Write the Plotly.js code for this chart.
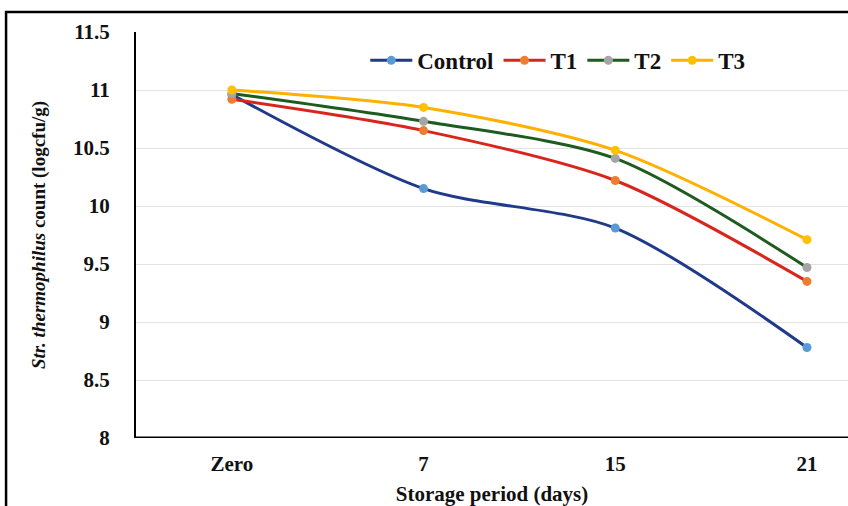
<!DOCTYPE html>
<html>
<head>
<meta charset="utf-8">
<script src="https://cdn.plot.ly/plotly-3.0.1.min.js"></script>
<style>
html,body{margin:0;padding:0;background:#fff;}
#chart{width:848px;height:506px;}
</style>
</head>
<body>
<div id="chart"></div>
<script>
const categories = ["Zero", "7", "15", "21"];
const seriesNames = ["Control", "T1", "T2", "T3"];
const control = [10.96, 10.15, 9.81, 8.78];
const t1 = [10.92, 10.65, 10.22, 9.35];
const t2 = [10.97, 10.73, 10.41, 9.47];
const t3 = [11.00, 10.85, 10.48, 9.71];
const yTicks = [8, 8.5, 9, 9.5, 10, 10.5, 11, 11.5];

const lineColors = ["#1F3A8A", "#D9261C", "#1E5B1E", "#FFB000"];
const markerColors = ["#5B9BD5", "#ED7D31", "#A5A5A5", "#FFC000"];
const values = [control, t1, t2, t3];

const traces = values.map((v, i) => ({
  x: [0, 1, 2, 3],
  y: v,
  name: seriesNames[i],
  type: "scatter",
  mode: "lines+markers",
  line: {color: lineColors[i], width: 3, shape: "spline", smoothing: 0.8},
  marker: {color: markerColors[i], size: 9}
}));

const serif = "Liberation Serif";
const layout = {
  width: 848, height: 506,
  margin: {l: 136, r: 0, t: 32, b: 68},
  paper_bgcolor: "#fff", plot_bgcolor: "#fff",
  font: {family: serif, color: "#111", size: 20, weight: "bold"},
  showlegend: true,
  legend: {orientation: "h", x: 0.322, y: 0.93, xanchor: "left", yanchor: "middle",
           font: {family: serif, size: 23, weight: "bold", color: "#111"},
           bgcolor: "rgba(0,0,0,0)", itemwidth: 42, tracegroupgap: 0},
  xaxis: {
    range: [-0.5, 3.214],
    tickmode: "array", tickvals: [0, 1, 2, 3], ticktext: categories,
    showgrid: false, zeroline: false, showline: false, ticks: "",
    ticklabelstandoff: 11,
    tickfont: {family: serif, size: 21, weight: "bold"},
    title: {text: "Storage period (days)", font: {family: serif, size: 21, weight: "bold"}, standoff: 22}
  },
  yaxis: {
    range: [8, 11.5],
    tickmode: "array", tickvals: yTicks, ticktext: yTicks.map(String),
    showgrid: true, gridcolor: "#E3E3E3", gridwidth: 1,
    zeroline: false, showline: true, linecolor: "#000", linewidth: 2, ticks: "",
    ticklabelstandoff: 20,
    tickfont: {family: serif, size: 21, weight: "bold"},
    title: {text: "<i>Str. thermophilus</i> count (logcfu/g)", font: {family: serif, size: 19, weight: "bold"}, standoff: 22}
  },
  shapes: [
    {type: "line", xref: "paper", yref: "y", x0: 0, x1: 1.05, y0: 8, y1: 8, line: {color: "#000", width: 3}},
    {type: "path", xref: "paper", yref: "paper",
     path: "M -0.1825 -0.2 L -0.1825 1.0493 L 1.05 1.0493", line: {color: "#000", width: 2.5}}
  ]
};

Plotly.newPlot("chart", traces, layout, {displayModeBar: false, staticPlot: true});
</script>
</body>
</html>
